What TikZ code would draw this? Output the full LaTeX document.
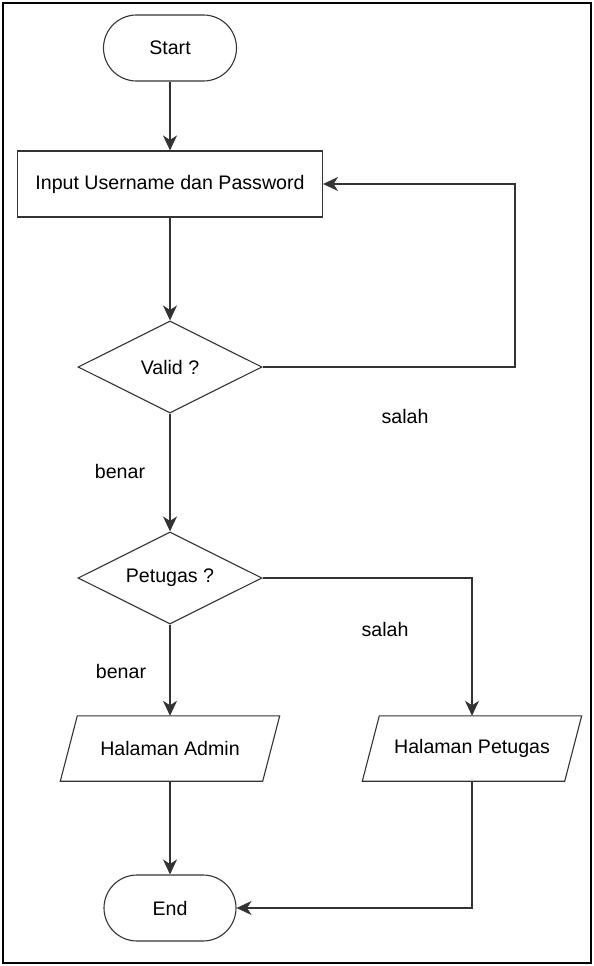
\documentclass[tikz,border=0pt]{standalone}
\usepackage{fontspec}
\setmainfont{Liberation Sans}
\usetikzlibrary{shapes.geometric,arrows.meta}
\definecolor{linegray}{HTML}{333333}
\tikzset{
  every node/.style={font=\fontsize{19.6}{23}\selectfont, text=black},
  terminal/.style={draw=linegray, line width=1.1pt, rectangle, rounded corners=33pt,
    minimum width=133pt, minimum height=66pt, inner sep=0pt},
  process/.style={draw=linegray, line width=1.1pt, rectangle,
    minimum width=305pt, minimum height=66pt, inner sep=0pt},
  decision/.style={draw=linegray, line width=1.1pt, diamond, aspect=2,
    minimum width=184pt, minimum height=92pt, inner sep=0pt},
  iobox/.style={rectangle, minimum width=202pt, minimum height=65pt, inner sep=0pt},
  flow/.style={draw=linegray, line width=1.1pt,
    -{Stealth[length=15pt, width=14pt, inset=4.5pt]}},
  edgelabel/.style={inner sep=0pt}
}
\newcommand{\iooutline}[1]{%
  \draw[linegray, line width=1.1pt]
    ([xshift=8.5pt]#1.north west) -- ([xshift=8.5pt]#1.north east)
    -- ([xshift=-8.5pt]#1.south east) -- ([xshift=-8.5pt]#1.south west) -- cycle;}
\begin{document}
\begin{tikzpicture}[x=1pt, y=-1pt]
  \useasboundingbox (0,0) rectangle (594,966);
  \draw[black, line width=2pt] (3,3) rectangle (591,963);

  % shapes
  \node[terminal] (start) at (170,48) {Start};
  \node[process] (input) at (170,184) {Input Username dan Password};
  \node[decision] (valid) at (170,367) {Valid ?};
  \node[decision] (petugas) at (170,578) {Petugas ?};
  \node[iobox] (admin) at (170,748.5) {Halaman Admin};
  \node[iobox] (hpetugas) at (472,748.5) {Halaman Petugas};
  \iooutline{admin}
  \iooutline{hpetugas}
  \node[terminal, minimum width=132pt] (end) at (170,908) {End};

  % branch labels
  \node[edgelabel] (salah1) at (405,416) {salah};
  \node[edgelabel] (benar1) at (120,471) {benar};
  \node[edgelabel] (salah2) at (385,629) {salah};
  \node[edgelabel] (benar2) at (121,671) {benar};

  % connectors
  \coordinate (loopback) at (515,367);
  \draw[flow] (start.south) -- (input.north);
  \draw[flow] (input.south) -- (valid.north);
  \draw[flow] (valid.east) -- (loopback) |- (input.east);
  \draw[flow] (valid.south) -- (petugas.north);
  \draw[flow] (petugas.east) -| (hpetugas.north);
  \draw[flow] (petugas.south) -- (admin.north);
  \draw[flow] (admin.south) -- (end.north);
  \draw[flow] (hpetugas.south) |- (end.east);
\end{tikzpicture}
\end{document}
